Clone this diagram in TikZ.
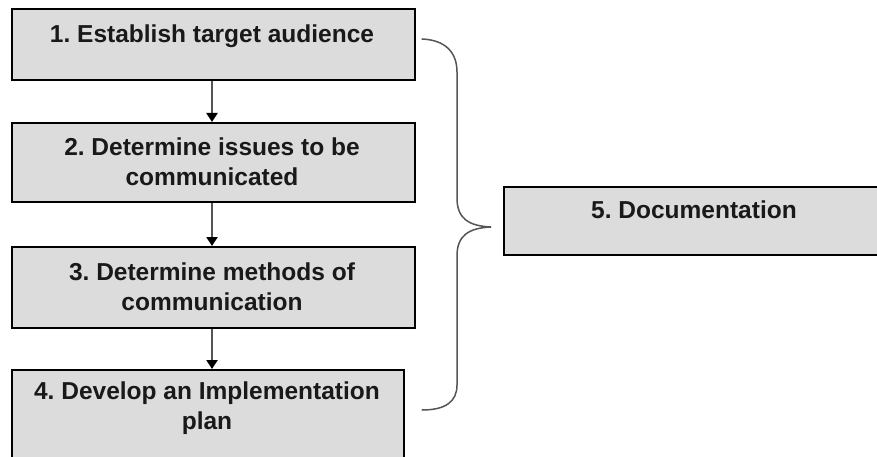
\documentclass[tikz,border=0pt]{standalone}
\usepackage{fontspec}
\setmainfont{Liberation Sans}
\usetikzlibrary{arrows.meta}
\definecolor{boxfill}{HTML}{DCDCDC}
\definecolor{linegrey}{HTML}{555555}
\tikzset{
  stepbox/.style={draw=black, line width=2pt, fill=boxfill, rectangle, inner sep=0pt},
  lbl/.style={font=\fontsize{24.5}{30}\selectfont\bfseries\frenchspacing, align=center, inner sep=0pt, text=black!90},
  flow/.style={draw=linegrey, line width=2.2pt, -{Triangle[length=9pt,width=11pt,color=black]}},
  bracestyle/.style={draw=linegrey, line width=1.5pt, line cap=round}
}
\begin{document}
\begin{tikzpicture}[x=1pt,y=-1pt]
\useasboundingbox (0,0) rectangle (877,457);
\clip (0,0) rectangle (877,457);
\fill[white] (0,0) rectangle (877,457);
% boxes
\node[stepbox, anchor=north west, minimum width=403pt, minimum height=71pt] (b1) at (11,8) {};
\node[stepbox, anchor=north west, minimum width=403pt, minimum height=79pt] (b2) at (11,122) {};
\node[stepbox, anchor=north west, minimum width=403pt, minimum height=81pt] (b3) at (11,246) {};
\node[stepbox, anchor=north west, minimum width=392pt, minimum height=110pt] (b4) at (11,369) {};
\node[stepbox, anchor=north west, minimum width=420pt, minimum height=68pt] (b5) at (503,186) {};
% texts
\node[lbl] (t1) at (212,36) {1. Establish target audience};
\node[lbl] (t2) at (212,162) {2. Determine issues to be\\communicated};
\node[lbl] (t3) at (212,286.5) {3. Determine methods of\\communication};
\node[lbl] (t4) at (207,408) {4. Develop an Implementation\\plan};
\node[lbl] (t5) at (694,210) {5. Documentation};
% arrows
\draw[flow] (b1.south -| 212,0) -- (b2.north -| 212,0);
\draw[flow] (b2.south -| 212,0) -- (b3.north -| 212,0);
\draw[flow] (b3.south -| 212,0) -- (b4.north -| 212,0);
% brace
\coordinate (btop) at (422,39);
\coordinate (bbot) at (422,410);
\coordinate (btip) at (491,227);
\draw[bracestyle] (btop) .. controls (445,40) and (457,52) .. (457,72)
  -- (457,198) .. controls (457,218) and (468,226) .. (btip)
  .. controls (468,228) and (457,236) .. (457,256)
  -- (457,385) .. controls (457,402) and (445,410) .. (bbot);
\end{tikzpicture}
\end{document}
